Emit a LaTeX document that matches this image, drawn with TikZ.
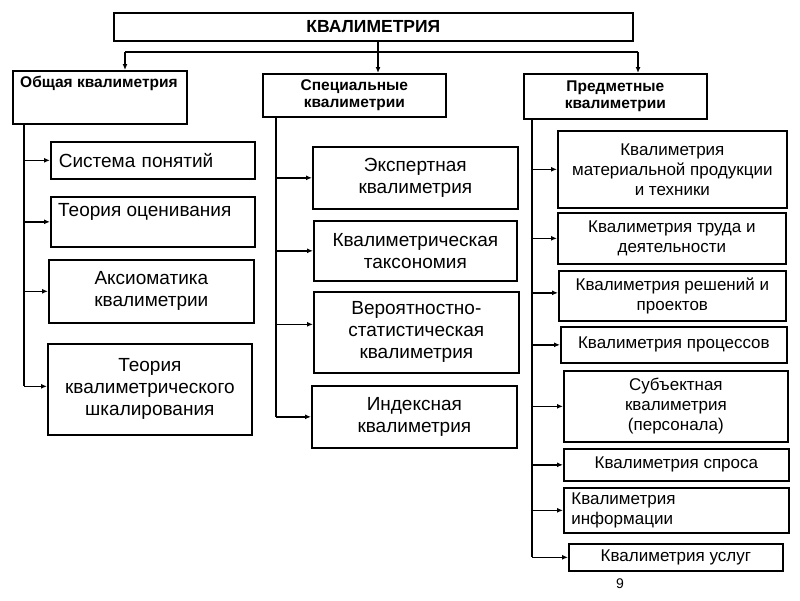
\documentclass[tikz,border=0pt]{standalone}
\usepackage{fontspec}
\setmainfont{Liberation Sans}
\usetikzlibrary{arrows.meta}
\tikzset{>={Latex[length=6pt,width=5pt]}}

\begin{document}
\begin{tikzpicture}[x=1pt,y=-1pt,
        box/.style={draw,line width=1.7pt,anchor=north west,inner sep=2pt,align=center,
            font=\fontsize{19}{22}\selectfont},
        rbox/.style={box,font=\fontsize{17}{20}\selectfont},
        hdr/.style={font=\bfseries\fontsize{15.5}{17}\selectfont},
        link/.style={line width=1.7pt}]
        \useasboundingbox (0,0) rectangle (800,600);

        % top level
        \node[box,minimum width=519,minimum height=28,font=\bfseries\fontsize{17.5}{19}\selectfont]
            (kv) at (113,12) {КВАЛИМЕТРИЯ};
        \node[box,minimum width=174,minimum height=53] (gen) at (12,70) {};
        \node[hdr,anchor=west,inner sep=0pt] at (20,83) {Общая квалиметрия};
        \node[box,hdr,minimum width=183,minimum height=43] (spec) at (262,73)
            {Специальные\\квалиметрии};
        \node[box,hdr,minimum width=183,minimum height=45] (subj) at (523,73)
            {Предметные\\квалиметрии};

        % general
        \node[box,minimum width=204,minimum height=37,text width=188,align=left] (g1) at (50,141)
            {Система понятий};
        \node[box,minimum width=204,minimum height=50] (g2) at (50,196) {};
        \node[anchor=west,inner sep=0pt,font=\fontsize{19}{22}\selectfont] at (58,212)
            {Теория оценивания};
        \node[box,minimum width=205,minimum height=63] (g3) at (48,259)
            {Аксиоматика\\квалиметрии};
        \node[box,minimum width=204,minimum height=91] (g4) at (47,343)
            {Теория\\квалиметрического\\шкалирования};

        % special
        \node[box,minimum width=205,minimum height=62] (s1) at (312,146)
            {Экспертная\\квалиметрия};
        \node[box,minimum width=203,minimum height=60] (s2) at (313,220)
            {Квалиметрическая\\таксономия};
        \node[box,minimum width=205,minimum height=81] (s3) at (313,291)
            {Вероятностно-\\статистическая\\квалиметрия};
        \node[box,minimum width=205,minimum height=62] (s4) at (311,385)
            {Индексная\\квалиметрия};

        % subject
        \node[rbox,minimum width=229,minimum height=77] (p1) at (557,130)
            {Квалиметрия\\материальной продукции\\и техники};
        \node[rbox,minimum width=228,minimum height=51] (p2) at (557,212)
            {Квалиметрия труда и\\деятельности};
        \node[rbox,minimum width=227,minimum height=50] (p3) at (558,270)
            {Квалиметрия решений и\\проектов};
        \node[rbox,minimum width=226,minimum height=36] (p4) at (560,326)
            {Квалиметрия процессов};
        \node[rbox,minimum width=224,minimum height=71] (p5) at (563,370)
            {Субъектная\\квалиметрия\\(персонала)};
        \node[rbox,minimum width=225,minimum height=32] (p6) at (563,448)
            {Квалиметрия спроса};
        \node[rbox,minimum width=225,minimum height=45,text width=210,align=left] (p7) at (563,487)
            {Квалиметрия\\информации};
        \node[rbox,minimum width=214,minimum height=27] (p8) at (568,543)
            {Квалиметрия услуг};

        \node[font=\fontsize{14}{16}\selectfont] (pg) at (620,584) {9};

        % bus under the title
        \coordinate (bl) at (125,52);
        \coordinate (bm) at (378,52);
        \coordinate (br) at (638,52);
        \draw[link] (bl) -- (br);
        \draw[link,->] (bl) -- (bl |- gen.north);
        \draw[link,->] (br) -- (br |- subj.north);
        \draw[link,->] (kv.south -| bm) -- (bm |- spec.north);

        % trunks
        \coordinate (lt) at (24,0);
        \coordinate (mt) at (276,0);
        \coordinate (rt) at (532,0);
        \coordinate (g4a) at ([yshift=3pt]g4.west);
        \coordinate (s3a) at ([yshift=8pt]s3.west);
        \coordinate (p3a) at ([yshift=3pt]p3.west);

        \draw[link] (gen.south -| lt) -- (g4a -| lt);
        \draw[link] (spec.south -| mt) -- (s4 -| mt);
        \draw[link] (subj.south -| rt) -- (p8 -| rt);

        \foreach \b in {g1,g2,g3,g4a}
            \draw[link,->] (\b -| lt) -- (\b);
        \foreach \b in {s1,s2,s3a,s4}
            \draw[link,->] (\b -| mt) -- (\b);
        \foreach \b in {p1,p2,p3a,p4,p5,p6,p7,p8}
            \draw[link,->] (\b -| rt) -- (\b);
    \end{tikzpicture}
\end{document}
